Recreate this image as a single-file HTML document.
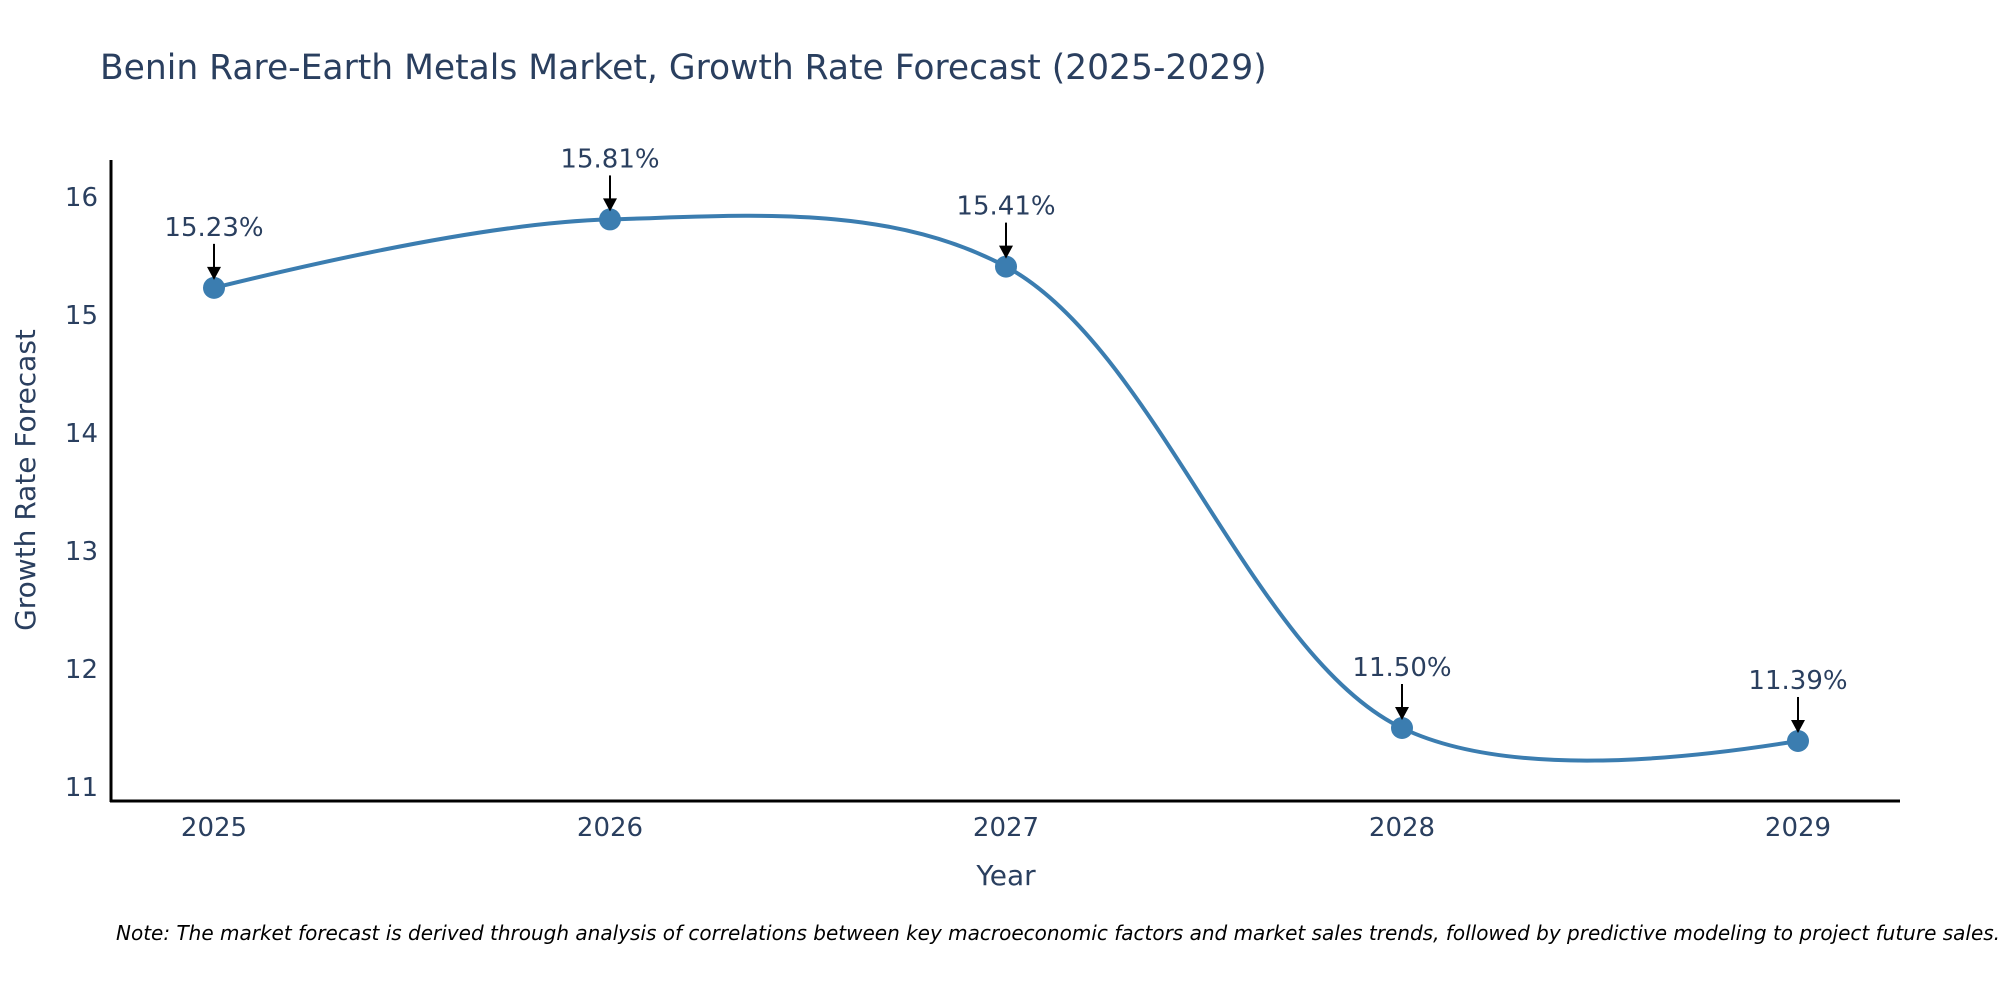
<!DOCTYPE html>
<html><head><meta charset="utf-8"><style>
html,body{margin:0;padding:0;background:#fff;}
svg text{font-family:"DejaVu Sans","Liberation Sans",sans-serif;fill:#2a3f5f;}
</style></head><body>
<svg id="chart" width="2000" height="1000" viewBox="0 0 2000 1000" xmlns="http://www.w3.org/2000/svg">
<text x="100" y="79" font-size="34.5">Benin Rare-Earth Metals Market, Growth Rate Forecast (2025-2029)</text>
<g id="yticks"></g><g id="xticks"></g>
<line x1="111" y1="160" x2="111" y2="802" stroke="#000" stroke-width="3"/>
<line x1="110" y1="801" x2="1900" y2="801" stroke="#000" stroke-width="3"/>
<text x="1006" y="885" font-size="28" text-anchor="middle">Year</text>
<text transform="translate(35,480) rotate(-90)" font-size="28" text-anchor="middle">Growth Rate Forecast</text>
<path id="line" fill="none" stroke="#3b7db0" stroke-width="4"/>
<g id="marks"></g>
<text x="116" y="940" font-size="20" font-style="italic" style="fill:#000">Note: The market forecast is derived through analysis of correlations between key macroeconomic factors and market sales trends, followed by predictive modeling to project future sales.</text>
</svg>
<script>
const years = ["2025","2026","2027","2028","2029"];
const values = [15.23, 15.81, 15.41, 11.50, 11.39];
const labels = ["15.23%","15.81%","15.41%","11.50%","11.39%"];
const yTicks = [11,12,13,14,15,16];
const NS="http://www.w3.org/2000/svg";
function xs(i){return 214+i*396;}
function ys(v){return 315-(v-15)*118;}
function mk(t,a,p){const e=document.createElementNS(NS,t);for(const k in a)e.setAttribute(k,a[k]);(p||document.getElementById('chart')).appendChild(e);return e;}
const yg=document.getElementById('yticks');
yTicks.forEach(t=>{const e=mk('text',{x:98,y:ys(t)+9,'font-size':26,'text-anchor':'end'},yg);


e.textContent=t;});
const xg=document.getElementById('xticks');
years.forEach((y,i)=>{const e=mk('text',{x:xs(i),y:836,'font-size':26,'text-anchor':'middle'},xg);


e.textContent=y;});
const pts=values.map((v,i)=>[xs(i),ys(v)]);
function tan(p,t,n,s){const d1x=p[0]-t[0],d1y=p[1]-t[1],d2x=n[0]-t[0],d2y=n[1]-t[1];
const d1a=Math.pow(d1x*d1x+d1y*d1y,0.25),d2a=Math.pow(d2x*d2x+d2y*d2y,0.25);
const nx=(d2a*d2a*d1x-d1a*d1a*d2x)*s,ny=(d2a*d2a*d1y-d1a*d1a*d2y)*s;
const a=3*d2a*(d1a+d2a),b=3*d1a*(d1a+d2a);
return [[t[0]+nx/a,t[1]+ny/a],[t[0]-nx/b,t[1]-ny/b]];}
const T=[];for(let i=1;i<pts.length-1;i++)T.push(tan(pts[i-1],pts[i],pts[i+1],1));
let d='M'+pts[0]+'Q'+T[0][0]+' '+pts[1];
for(let i=2;i<pts.length-1;i++)d+='C'+T[i-2][1]+' '+T[i-1][0]+' '+pts[i];
d+='Q'+T[T.length-1][1]+' '+pts[pts.length-1];
document.getElementById('line').setAttribute('d',d);
const mg=document.getElementById('marks');
pts.forEach((p,i)=>{
const c=mk('circle',{cx:p[0],cy:p[1],r:11,fill:'#3b7db0'},mg);


const l=mk('line',{x1:p[0],y1:p[1]-44,x2:p[0],y2:p[1]-18,stroke:'#000','stroke-width':2},mg);


const h=mk('polygon',{points:`${p[0]-7},${p[1]-21} ${p[0]+7},${p[1]-21} ${p[0]},${p[1]-8}`,fill:'#000'},mg);


const t=mk('text',{x:p[0],y:p[1]-52,'font-size':26,'text-anchor':'middle'},mg);


t.textContent=labels[i];
});
</script>
</body></html>
